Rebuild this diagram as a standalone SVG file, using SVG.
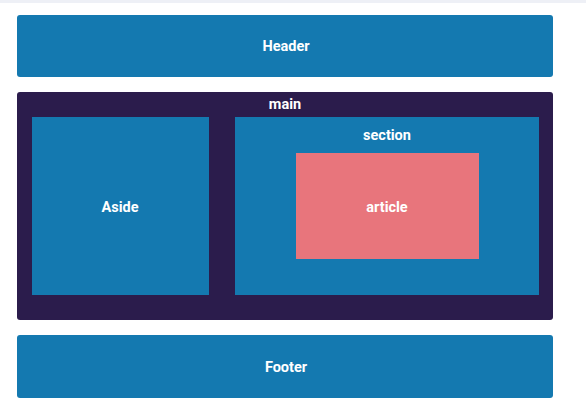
<svg xmlns="http://www.w3.org/2000/svg" width="586" height="406" viewBox="0 0 586 406">
<style>
.blue{fill:#1479b0}
.dark{fill:#2b1c4c}
.pink{fill:#e8757c}
text{font-family:Roboto,"Open Sans","Liberation Sans",sans-serif;font-weight:bold;font-size:14.5px;fill:#ffffff;text-anchor:middle;dominant-baseline:central}
</style>
<rect x="0" y="0" width="586" height="406" fill="#ffffff"/>
<rect x="0" y="0" width="586" height="3" fill="#eef0f6"/>
<g id="header"><rect class="blue" x="17" y="15" width="536" height="62" rx="3"/><text x="286" y="46">Header</text></g>
<g id="main"><rect class="dark" x="17" y="92" width="536" height="228" rx="3"/><text x="285" y="104">main</text>
<g id="aside"><rect class="blue" x="32" y="117" width="177" height="178"/><text x="120" y="207">Aside</text></g>
<g id="section"><rect class="blue" x="235" y="117" width="304" height="178"/><text x="387" y="135">section</text>
<g id="article"><rect class="pink" x="296" y="153" width="183" height="106"/><text x="387" y="207">article</text></g></g></g>
<g id="footer"><rect class="blue" x="17" y="335" width="536" height="63" rx="3"/><text x="286" y="367">Footer</text></g>
<g id="connectors"/>
</svg>
